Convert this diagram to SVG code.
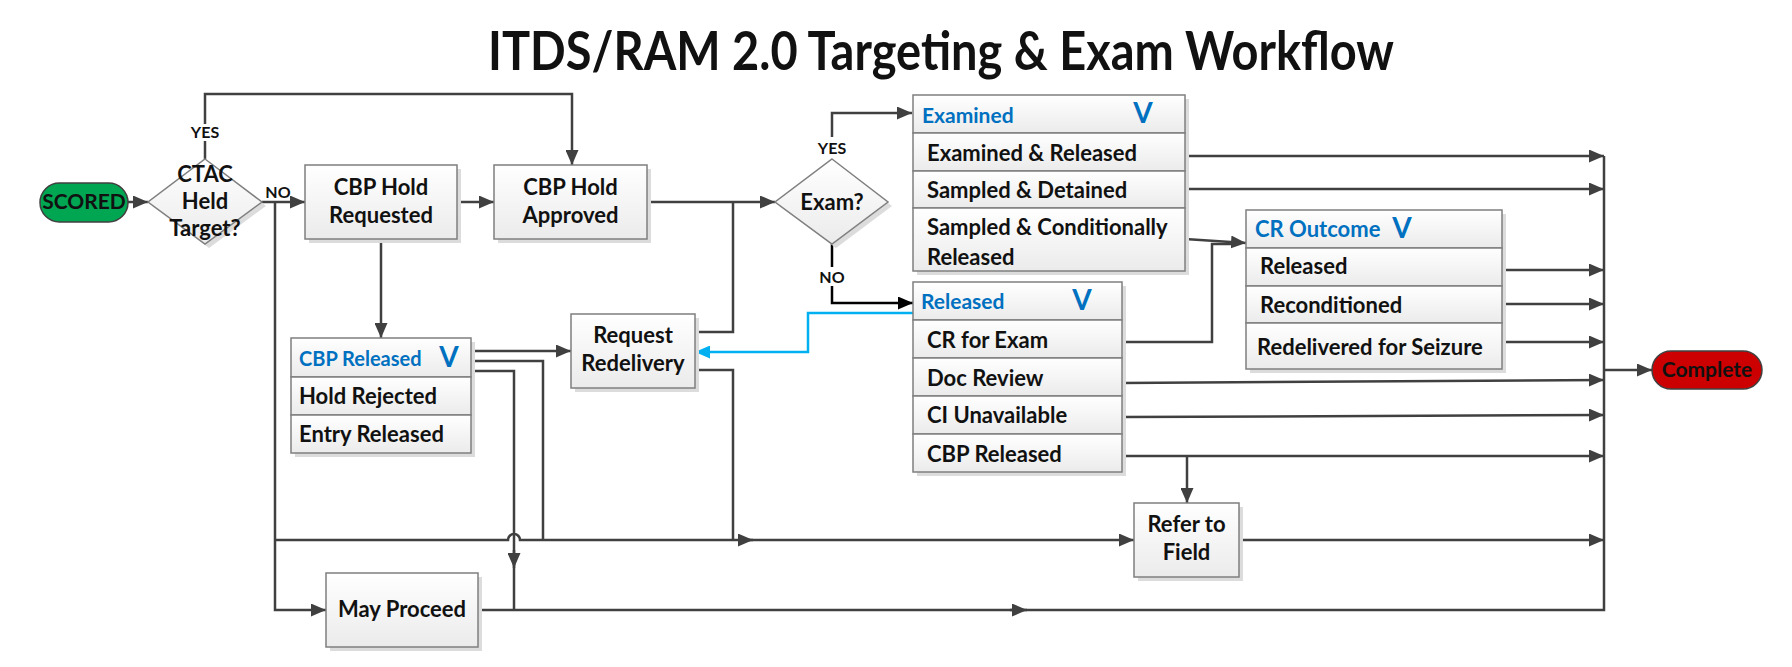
<svg xmlns="http://www.w3.org/2000/svg" width="1792" height="667" viewBox="0 0 1792 667">
<defs>
<linearGradient id="g" x1="0" y1="0" x2="0" y2="1"><stop offset="0" stop-color="#ffffff"/><stop offset="1" stop-color="#ebebeb"/></linearGradient>
<marker id="a" markerUnits="userSpaceOnUse" markerWidth="15" markerHeight="13" refX="15" refY="6.5" orient="auto"><path d="M0,0 L15,6.5 L0,13 z" fill="#404040"/></marker>
<marker id="ak" markerUnits="userSpaceOnUse" markerWidth="15" markerHeight="13" refX="15" refY="6.5" orient="auto"><path d="M0,0 L15,6.5 L0,13 z" fill="#000"/></marker>
<marker id="ab" markerUnits="userSpaceOnUse" markerWidth="15" markerHeight="13" refX="15" refY="6.5" orient="auto"><path d="M0,0 L15,6.5 L0,13 z" fill="#00b0f0"/></marker>
</defs>
<style>
.ln{fill:none;stroke:#404040;stroke-width:2.5}
.box{fill:url(#g);stroke:#7f7f7f;stroke-width:1.5}
.sh{fill:#dcdcdc}
.t{font-family:Lato,"Open Sans","Liberation Sans",sans-serif;font-weight:bold;font-size:22px;fill:#111}
.c{text-anchor:middle}
.h{fill:#0070c0;font-size:21px}
.v{font-size:28px;fill:#0070c0}
.lb{font-size:16px}
</style>
<rect width="1792" height="667" fill="#fff"/>
<text class="t c" x="941" y="70" style="font-size:54px" textLength="906" lengthAdjust="spacingAndGlyphs">ITDS/RAM 2.0 Targeting &amp; Exam Workflow</text>

<g id="connectors">
<path class="ln" d="M128,202 H148" marker-end="url(#a)"/>
<path class="ln" d="M205,159 V94 H572 V165" marker-end="url(#a)"/>
<path class="ln" d="M262,202 H305" marker-end="url(#a)"/>
<path class="ln" d="M275,202 V610 H326" marker-end="url(#a)"/>
<path class="ln" d="M275,540 H508 A6,6 0 0 1 520,540 H1134" marker-end="url(#a)"/>
<path class="ln" d="M740,540 H753" marker-end="url(#a)"/>
<path class="ln" d="M457,202 H494" marker-end="url(#a)"/>
<path class="ln" d="M647,202 H775" marker-end="url(#a)"/>
<path class="ln" d="M381,239 V338" marker-end="url(#a)"/>
<path class="ln" d="M471,351 H571" marker-end="url(#a)"/>
<path class="ln" d="M471,361 H543 V540"/>
<path class="ln" d="M471,371 H514 V610"/>
<path class="ln" d="M514,550 V568" marker-end="url(#a)"/>
<path class="ln" d="M695,332 H733 V202"/>
<path class="ln" d="M695,370 H733 V540"/>
<path class="ln" d="M832,137 V113 H912" marker-end="url(#a)"/>
<path d="M832,244 V303 H913" fill="none" stroke="#000" stroke-width="2.5" marker-end="url(#ak)"/>
<path d="M913,313 H808 V352 H695" fill="none" stroke="#00b0f0" stroke-width="2.5" marker-end="url(#ab)"/>
<path class="ln" d="M1185,156 H1604" marker-end="url(#a)"/>
<path class="ln" d="M1185,189 H1604" marker-end="url(#a)"/>
<path class="ln" d="M1185,239 L1246,243" marker-end="url(#a)"/>
<path class="ln" d="M1122,342 H1212 V244 H1236"/>
<path class="ln" d="M1502,270 H1604" marker-end="url(#a)"/>
<path class="ln" d="M1502,304 H1604" marker-end="url(#a)"/>
<path class="ln" d="M1502,342 H1604" marker-end="url(#a)"/>
<path class="ln" d="M1122,383 L1604,380" marker-end="url(#a)"/>
<path class="ln" d="M1122,417 L1604,415" marker-end="url(#a)"/>
<path class="ln" d="M1122,456 H1604" marker-end="url(#a)"/>
<path class="ln" d="M1187,456 V503" marker-end="url(#a)"/>
<path class="ln" d="M1239,540 H1604" marker-end="url(#a)"/>
<path class="ln" d="M478,610 H1604 V156"/>
<path class="ln" d="M1010,610 H1027" marker-end="url(#a)"/>
<path class="ln" d="M1604,370 H1652" marker-end="url(#a)"/>
<rect x="190" y="124" width="30" height="17" fill="#fff"/>
<text class="t c lb" x="205" y="138">YES</text>
<rect x="817" y="140" width="30" height="16" fill="#fff"/>
<text class="t c lb" x="832" y="154">YES</text>
<rect x="819" y="267" width="26" height="19" fill="#fff"/>
<text class="t c lb" x="832" y="283">NO</text>
<text class="t c lb" x="278" y="198">NO</text>
</g>

<g id="scored">
<rect x="40" y="183" width="88" height="39" rx="19.5" fill="#00a651" stroke="#404040" stroke-width="1.5"/>
<text class="t c" x="84" y="209" style="font-size:21px">SCORED</text>
</g>

<g id="ctac">
<polygon points="209,163 266,206 209,248 152,206" class="sh"/>
<polygon points="205,159 262,202 205,244 148,202" class="box"/>
<text class="t c" x="205" y="182">CTAC</text>
<text class="t c" x="205" y="209">Held</text>
<text class="t c" x="205" y="236">Target?</text>
</g>

<g id="hold-requested">
<rect x="309" y="169" width="152" height="74" class="sh"/>
<rect x="305" y="165" width="152" height="74" class="box"/>
<text class="t c" x="381" y="195">CBP Hold</text>
<text class="t c" x="381" y="223">Requested</text>
</g>

<g id="hold-approved">
<rect x="498" y="169" width="153" height="74" class="sh"/>
<rect x="494" y="165" width="153" height="74" class="box"/>
<text class="t c" x="570.5" y="195">CBP Hold</text>
<text class="t c" x="570.5" y="223">Approved</text>
</g>

<g id="exam">
<polygon points="836,163 892,206 836,248 779,206" class="sh"/>
<polygon points="832,159 888,202 832,244 775,202" class="box"/>
<text class="t c" x="832" y="210">Exam?</text>
</g>

<g id="cbp-released">
<rect x="295" y="342" width="180" height="115" class="sh"/>
<rect x="291" y="338" width="180" height="39" class="box"/>
<rect x="291" y="377" width="180" height="38" class="box"/>
<rect x="291" y="415" width="180" height="38" class="box"/>
<text class="t h" x="299" y="366" style="font-size:20px">CBP Released</text>
<text class="t v" x="449" y="367" text-anchor="middle">V</text>
<text class="t" x="299" y="404">Hold Rejected</text>
<text class="t" x="299" y="442">Entry Released</text>
</g>

<g id="request-redelivery">
<rect x="575" y="318" width="124" height="74" class="sh"/>
<rect x="571" y="314" width="124" height="74" class="box"/>
<text class="t c" x="633" y="343">Request</text>
<text class="t c" x="633" y="371">Redelivery</text>
</g>

<g id="examined">
<rect x="917" y="99" width="272" height="176" class="sh"/>
<rect x="913" y="95" width="272" height="38" class="box"/>
<rect x="913" y="133" width="272" height="38" class="box"/>
<rect x="913" y="171" width="272" height="37" class="box"/>
<rect x="913" y="208" width="272" height="63" class="box"/>
<text class="t h" x="922" y="123">Examined</text>
<text class="t v" x="1143" y="123" text-anchor="middle">V</text>
<text class="t" x="927" y="161">Examined &amp; Released</text>
<text class="t" x="927" y="198">Sampled &amp; Detained</text>
<text class="t" x="927" y="235">Sampled &amp; Conditionally</text>
<text class="t" x="927" y="265">Released</text>
</g>

<g id="released">
<rect x="917" y="286" width="209" height="190" class="sh"/>
<rect x="913" y="282" width="209" height="38" class="box"/>
<rect x="913" y="320" width="209" height="38" class="box"/>
<rect x="913" y="358" width="209" height="38" class="box"/>
<rect x="913" y="396" width="209" height="38" class="box"/>
<rect x="913" y="434" width="209" height="38" class="box"/>
<text class="t h" x="921" y="309">Released</text>
<text class="t v" x="1082" y="310" text-anchor="middle">V</text>
<text class="t" x="927" y="348">CR for Exam</text>
<text class="t" x="927" y="386">Doc Review</text>
<text class="t" x="927" y="423">CI Unavailable</text>
<text class="t" x="927" y="462">CBP Released</text>
</g>

<g id="cr-outcome">
<rect x="1250" y="214" width="256" height="159" class="sh"/>
<rect x="1246" y="210" width="256" height="38" class="box"/>
<rect x="1246" y="248" width="256" height="38" class="box"/>
<rect x="1246" y="286" width="256" height="37" class="box"/>
<rect x="1246" y="323" width="256" height="46" class="box"/>
<text class="t h" x="1255" y="237" style="font-size:22px">CR Outcome</text>
<text class="t v" x="1402" y="238" text-anchor="middle">V</text>
<text class="t" x="1260" y="274">Released</text>
<text class="t" x="1260" y="313">Reconditioned</text>
<text class="t" x="1257" y="355">Redelivered for Seizure</text>
</g>

<g id="refer-to-field">
<rect x="1138" y="507" width="105" height="74" class="sh"/>
<rect x="1134" y="503" width="105" height="74" class="box"/>
<text class="t c" x="1186.5" y="532">Refer to</text>
<text class="t c" x="1186.5" y="560">Field</text>
</g>

<g id="may-proceed">
<rect x="330" y="577" width="152" height="74" class="sh"/>
<rect x="326" y="573" width="152" height="74" class="box"/>
<text class="t c" x="402" y="617">May Proceed</text>
</g>

<g id="complete">
<rect x="1652" y="351" width="110" height="38" rx="19" fill="#cc0000" stroke="#404040" stroke-width="1.5"/>
<text class="t c" x="1707" y="377" style="font-size:21px">Complete</text>
</g>
</svg>
